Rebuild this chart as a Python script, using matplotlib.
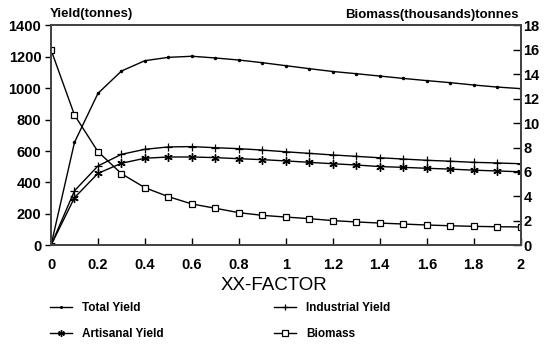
import matplotlib
matplotlib.use("Agg")
import matplotlib.pyplot as plt

# ---- data ----
xx_factor = [0.0, 0.1, 0.2, 0.3, 0.4, 0.5, 0.6, 0.7, 0.8, 0.9, 1.0,
             1.1, 1.2, 1.3, 1.4, 1.5, 1.6, 1.7, 1.8, 1.9, 2.0]
total_yield = [0, 655, 967, 1109, 1175, 1196, 1203, 1192, 1179, 1162, 1143,
               1124, 1106, 1092, 1077, 1062, 1048, 1035, 1020, 1007, 997]
industrial_yield = [0, 347, 505, 579, 611, 626, 628, 621, 615, 606, 595,
                    585, 575, 566, 557, 549, 541, 535, 528, 524, 519]
artisanal_yield = [0, 303, 458, 522, 554, 562, 562, 558, 551, 545, 537,
                   528, 519, 511, 501, 496, 490, 485, 478, 473, 468]
biomass = [16.0, 10.66, 7.66, 5.86, 4.71, 3.98, 3.38, 3.03, 2.67, 2.45, 2.31,
           2.18, 2.02, 1.91, 1.82, 1.74, 1.66, 1.60, 1.55, 1.52, 1.50]

x_ticks = [0, 0.2, 0.4, 0.6, 0.8, 1, 1.2, 1.4, 1.6, 1.8, 2]
x_tick_labels = ["0", "0.2", "0.4", "0.6", "0.8", "1", "1.2", "1.4", "1.6", "1.8", "2"]
left_ticks = [0, 200, 400, 600, 800, 1000, 1200, 1400]
right_ticks = [0, 2, 4, 6, 8, 10, 12, 14, 16, 18]

FONT = "Liberation Sans"
plt.rcParams["font.family"] = [FONT, "DejaVu Sans"]

W, H = 550, 344
fig = plt.figure(figsize=(W / 100, H / 100), dpi=100)
L, R, T, B = 51, 520.7, 25.3, 245.3
ax = fig.add_axes([L / W, 1 - B / H, (R - L) / W, (B - T) / H])
ax2 = ax.twinx()

lw = 1.0
ax.plot(xx_factor, total_yield, color="black", lw=lw, marker=".", ms=3,
        label="Total Yield")
ax.plot(xx_factor, industrial_yield, color="black", lw=lw, marker="+", ms=6,
        mew=0.9, label="Industrial Yield")
ax.plot(xx_factor, artisanal_yield, color="black", lw=lw, marker=(6, 2, 0), ms=6,
        mew=1.0, label="Artisanal Yield")
ax2.plot(xx_factor, biomass, color="black", lw=lw, marker="s", ms=5,
         mfc="white", mew=0.9, label="Biomass")

ax.set_xlim(0, 2)
ax.set_ylim(0, 1400)
ax2.set_ylim(0, 18)

ax.set_xticks(x_ticks)
ax.set_xticklabels(x_tick_labels)
ax.set_yticks(left_ticks)
ax2.set_yticks(right_ticks)

for lab in ax.get_xticklabels() + ax.get_yticklabels() + ax2.get_yticklabels():
    lab.set_fontsize(10.5)
    lab.set_fontweight("bold")

ax.tick_params(axis="x", direction="in", length=5, width=1.0, pad=9, top=False)
ax.tick_params(axis="y", direction="out", length=4, width=1.0, pad=3)
ax2.tick_params(axis="y", direction="in", length=6, width=1.0, pad=2)

for a in (ax, ax2):
    for s in a.spines.values():
        s.set_linewidth(1.4)
        s.set_color("#444444")

ax.set_xlabel("XX-FACTOR", fontsize=13.5, fontweight="normal")
ax.xaxis.set_label_coords((274 - L) / (R - L), (B - 285) / (B - T))
ax.xaxis.label.set_va("center")

fig.text(50 / W, 1 - 17.5 / H, "Yield(tonnes)", fontsize=9.5, fontweight="bold",
         ha="left", va="baseline")
fig.text(519 / W, 1 - 18 / H, "Biomass(thousands)tonnes", fontsize=9.5,
         fontweight="bold", ha="right", va="baseline")

h1, l1 = ax.get_legend_handles_labels()
h2, l2 = ax2.get_legend_handles_labels()
handles = dict(zip(l1 + l2, h1 + h2))

leg_kw = dict(frameon=False, prop={"family": FONT, "weight": "bold", "size": 8.5},
              handlelength=1.9, handletextpad=0.8, labelspacing=1.2,
              borderaxespad=0, borderpad=0, markerscale=0.8, numpoints=1)
fig.legend([handles["Total Yield"], handles["Artisanal Yield"]],
           ["Total Yield", "Artisanal Yield"],
           loc="upper left", bbox_to_anchor=(50 / W, 1 - 302 / H), **leg_kw)
fig.legend([handles["Industrial Yield"], handles["Biomass"]],
           ["Industrial Yield", "Biomass"],
           loc="upper left", bbox_to_anchor=(274 / W, 1 - 302 / H), **leg_kw)

fig.savefig("out.png", dpi=100)
